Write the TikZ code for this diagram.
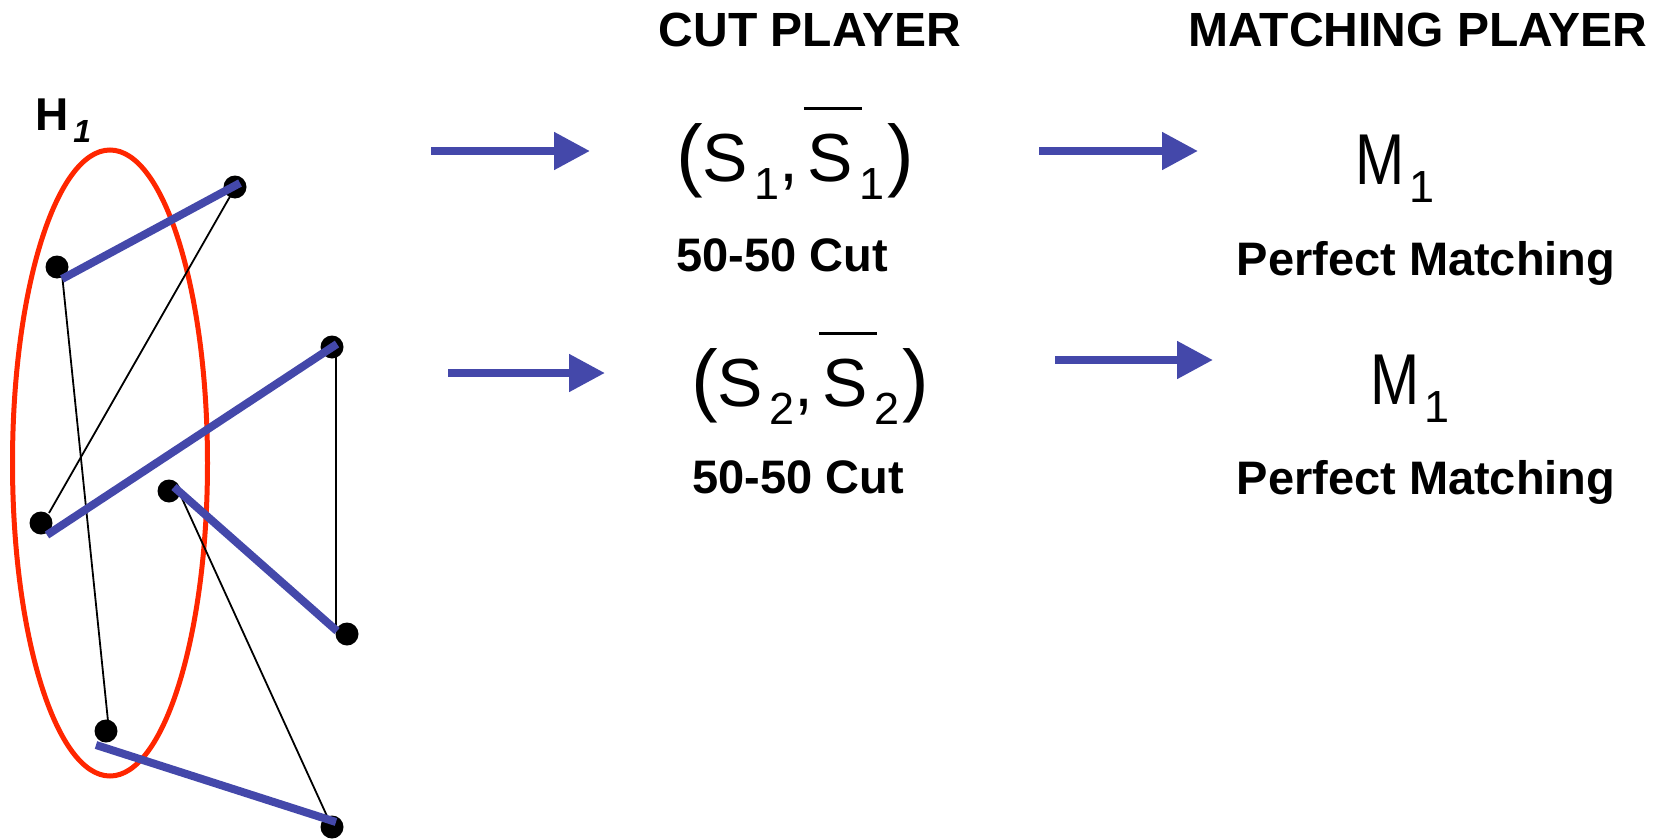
\documentclass[tikz,border=0pt]{standalone}
\usepackage{fontspec}
\setmainfont{Liberation Sans}
\usepackage{graphicx}
\usetikzlibrary{arrows.meta,calc}
\definecolor{edgeblue}{RGB}{68,72,170}
\definecolor{ringred}{RGB}{255,38,0}
% lowered subscript, overlined S, enlarged parentheses
\newcommand\lowsub[1]{\raisebox{-18pt}{\fontsize{45}{45}\selectfont #1}}
\newcommand\barS{\rlap{\hspace{-4pt}\rule[71pt]{58pt}{3pt}}S}
\newcommand\bigparen[1]{{\fontsize{80}{80}\selectfont #1}}
\newcommand\cutpair[1]{\bigparen{(}S\hspace{6pt}\lowsub{#1},\hspace{10pt}\barS\hspace{6pt}\lowsub{#1}\hspace{3pt}\bigparen{)}}
\newcommand\matchname[1]{\scalebox{0.82}[1]{\fontsize{72}{72}\selectfont M}\hspace{4pt}\lowsub{#1}}
\begin{document}
\begin{tikzpicture}[x=1pt,y=-1pt,
  dot/.style={circle,fill=black,minimum size=23pt,inner sep=0pt},
  matchedge/.style={edgeblue,line width=8pt},
  graphedge/.style={black,line width=1.8pt},
  flow/.style={edgeblue,line width=8pt,-{Triangle[length=36pt,width=36pt]}},
  heading/.style={font=\fontsize{48}{56}\selectfont\bfseries,anchor=base,inner sep=0pt},
  caption/.style={font=\fontsize{47}{56}\selectfont\bfseries,anchor=base,inner sep=0pt},
  bigmath/.style={font=\fontsize{68}{68}\selectfont,anchor=base,inner sep=0pt}]
\useasboundingbox (0,0) rectangle (1659,840);

% graph H_1
\node[anchor=base west,inner sep=0pt,font=\fontsize{46}{46}\selectfont\bfseries] (h1) at (35,131)
  {H\hspace{5pt}\raisebox{-12pt}{\fontsize{32}{32}\selectfont\itshape 1}};
\draw[ringred,line width=5pt] (110,463) ellipse [x radius=97.5, y radius=313];

\node[dot] (A) at (235,187) {};
\node[dot] (B) at (57,267) {};
\node[dot] (C) at (332,347) {};
\node[dot] (D) at (41,523) {};
\node[dot] (E) at (169,491) {};
\node[dot] (F) at (347,634) {};
\node[dot] (G) at (106,731) {};
\node[dot] (H) at (332,827) {};

\draw[graphedge] ($(A)+(-3,6)$) -- ($(D)+(8,-10)$);
\draw[graphedge] ($(B)+(5,7)$) -- ($(G)+(2,-10)$);
\draw[graphedge] ($(C)+(4,1)$) -- ($(F)+(-11,-8)$);
\draw[graphedge] ($(E)+(11,3)$) -- (H);

\draw[matchedge] ($(B)+(5,12)$) -- ($(A)+(5,-4)$);
\draw[matchedge] ($(D)+(6,12)$) -- ($(C)+(5,-3)$);
\draw[matchedge] ($(E)+(5,-4)$) -- ($(F)+(-10,-3)$);
\draw[matchedge] ($(G)+(-10,14)$) -- ($(H)+(4,-5)$);

% column headings
\node[heading] (cuthead) at (810,47) {CUT PLAYER};
\node[heading] (matchhead) at (1418,47) {MATCHING PLAYER};

% round 1
\node[bigmath] (cut1) at (795,181) {\cutpair{1}};
\node[caption] (cut1cap) at (782,271) {50-50 Cut};
\node[bigmath] (m1) at (1395,184) {\matchname{1}};
\node[caption] (m1cap) at (1426,275) {Perfect Matching};

% round 2
\node[bigmath] (cut2) at (810,406) {\cutpair{2}};
\node[caption] (cut2cap) at (798,493) {50-50 Cut};
\node[bigmath] (m2) at (1410,404) {\matchname{1}};
\node[caption] (m2cap) at (1426,494) {Perfect Matching};

% flow arrows
\coordinate (a1s) at (431,151); \coordinate (a1e) at (590,151);
\coordinate (a2s) at (448,373); \coordinate (a2e) at (605,373);
\coordinate (a3s) at (1039,151); \coordinate (a3e) at (1198,151);
\coordinate (a4s) at (1055,360); \coordinate (a4e) at (1213,360);
\draw[flow] (a1s) -- (a1e);
\draw[flow] (a2s) -- (a2e);
\draw[flow] (a3s) -- (a3e);
\draw[flow] (a4s) -- (a4e);
\end{tikzpicture}
\end{document}
